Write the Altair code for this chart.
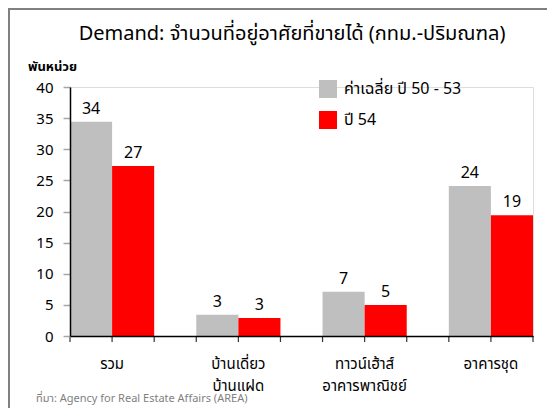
import altair as alt
import pandas as pd

# ---- data ----
categories = ["รวม", "บ้านเดี่ยว\nบ้านแฝด", "ทาวน์เฮ้าส์\nอาคารพาณิชย์", "อาคารชุด"]
series = ["ค่าเฉลี่ย ปี 50 - 53", "ปี 54"]
avg_50_53 = [34.4, 3.4, 7.1, 24.1]
year_54 = [27.3, 2.9, 5.0, 19.4]
colors = ["#BFBFBF", "#FF0000"]
y_ticks = [0, 5, 10, 15, 20, 25, 30, 35, 40]

title_text = "Demand: จำนวนที่อยู่อาศัยที่ขายได้ (กทม.-ปริมณฑล)"
unit_text = "พันหน่วย"
source_text = "ที่มา: Agency for Real Estate Affairs (AREA)"

rows = []
for i, c in enumerate(categories):
    rows.append({"cat": c, "series": series[0], "value": avg_50_53[i]})
    rows.append({"cat": c, "series": series[1], "value": year_54[i]})
df = pd.DataFrame(rows)
cat_df = pd.DataFrame({"cat": categories})

W, H = 463, 249
FONT = "Tahoma, 'Noto Sans Thai', 'DejaVu Sans', sans-serif"

xscale = alt.Scale(domain=categories, paddingInner=1 / 3, paddingOuter=0)
offscale = alt.Scale(domain=series, paddingInner=0, paddingOuter=0)
yscale = alt.Scale(domain=[0, 40])

x_axis = alt.Axis(labels=False, ticks=False, title=None, zindex=1,
                  domainColor="black", domainWidth=1.5)
y_axis = alt.Axis(values=y_ticks, title=None, grid=False, zindex=1,
                  labelOverlap=False,
                  domainColor="black", domainWidth=1.5,
                  tickColor="#A6A6A6", tickSize=7, tickWidth=1.5,
                  labelFontSize=15, labelFont=FONT, labelColor="black",
                  labelPadding=10)


def xenc(**kw):
    return alt.X("cat:N", scale=xscale, sort=categories, axis=x_axis, **kw)


def yenc():
    return alt.Y("value:Q", scale=yscale, axis=y_axis)


base = alt.Chart(df)

bars = base.mark_bar().encode(
    x=xenc(),
    xOffset=alt.XOffset("series:N", scale=offscale, sort=series),
    y=yenc(),
    color=alt.Color("series:N", scale=alt.Scale(domain=series, range=colors),
                    sort=series,
                    legend=alt.Legend(title=None, orient="none", legendX=249, legendY=-7,
                                      symbolType="square", symbolSize=324,
                                      symbolStrokeWidth=0, symbolOpacity=1,
                                      labelFontSize=16, labelFont=FONT,
                                      labelColor="black", labelOffset=7,
                                      rowPadding=13, padding=0)),
)

value_labels = base.mark_text(dy=-13, fontSize=16, font=FONT, color="black",
                              baseline="middle").encode(
    x=xenc(),
    xOffset=alt.XOffset("series:N", scale=offscale, sort=series),
    y=yenc(),
    text=alt.Text("value:Q", format=".0f"),
)

# x-axis tick marks at every bar edge: start, middle and end of each group band
tick_layers = [
    alt.Chart(cat_df).mark_rule(color="#333333", strokeWidth=1.2).encode(
        x=xenc(bandPosition=bp), y=alt.value(H), y2=alt.value(H + 6))
    for bp in (0, 0.5, 1)
]

x_labels = alt.Chart(cat_df).mark_text(
    lineBreak="\n", lineHeight=22, fontSize=15, font=FONT, color="black",
    baseline="middle", align="center").encode(
    x=xenc(),
    y=alt.value(H + 28),
    text="cat:N",
)

title = alt.Chart(pd.DataFrame({"t": [title_text]})).mark_text(
    fontSize=20, font=FONT, color="black", align="center", baseline="middle").encode(
    x=alt.value(222), y=alt.value(-53), text="t:N")

unit = alt.Chart(pd.DataFrame({"t": [unit_text]})).mark_text(
    fontSize=13, font=FONT, fontWeight="bold", color="black", align="left",
    baseline="middle").encode(x=alt.value(-42), y=alt.value(-20), text="t:N")

source = alt.Chart(pd.DataFrame({"t": [source_text]})).mark_text(
    fontSize=11, font=FONT, color="#7F7F7F", align="left",
    baseline="middle").encode(x=alt.value(-34), y=alt.value(312), text="t:N")

frame_left = alt.Chart(pd.DataFrame({"t": [0]})).mark_rule(
    color="#808080", strokeWidth=2).encode(
    x=alt.value(-61), y=alt.value(-78), y2=alt.value(H + 80))
frame_top = alt.Chart(pd.DataFrame({"t": [0]})).mark_rule(
    color="#808080", strokeWidth=2).encode(
    y=alt.value(-78), x=alt.value(-62), x2=alt.value(W + 20))

chart = alt.layer(
    frame_left, frame_top, bars, value_labels, *tick_layers,
    x_labels, title, unit, source,
).properties(
    width=W, height=H,
    autosize=alt.AutoSizeParams(type="none"),
    padding={"left": 62, "top": 79, "right": 14, "bottom": 72},
).configure_view(stroke=None).configure(background="white")

chart.save("out.html", embed_options={"renderer": "svg", "actions": False})
